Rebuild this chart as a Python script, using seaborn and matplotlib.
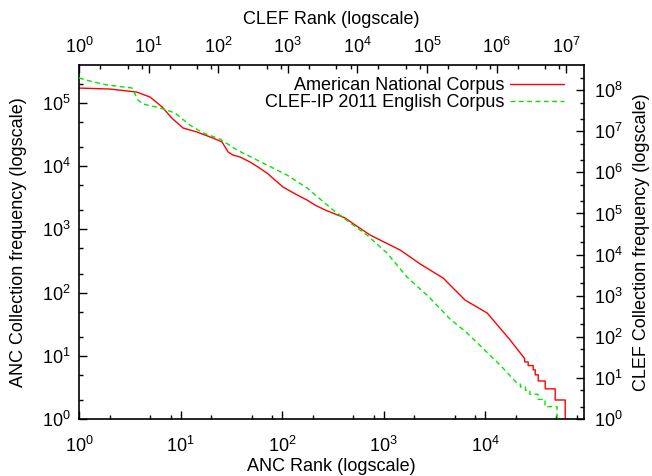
import matplotlib
matplotlib.use("Agg")
import matplotlib.pyplot as plt
from matplotlib.ticker import LogLocator, LogFormatterMathtext, NullFormatter
import seaborn as sns

# American National Corpus: rank vs collection frequency (bottom / left axes)
anc_rank = [1, 2.0, 3.7, 5.0, 6.6, 8.2, 10.6, 14.5, 20.9, 25.6, 29.4, 32.9, 38.5,
            48.4, 58, 71, 102, 141, 176, 211, 265, 418, 524, 736, 1454, 2290,
            3855, 6350, 10470, 17600, 24500,
            24500, 26500, 26500, 29700, 29700, 31100, 31100, 33300, 33300,
            39000, 39000, 48900, 48900, 61400, 61400]
anc_freq = [172600, 166700, 149300, 124500, 86500, 57900, 40200, 34800, 27900,
            24200, 16800, 15000, 14000, 11650, 9700, 7800, 4690, 3500, 2920,
            2430, 2030, 1515, 1175, 815, 472, 284, 170, 76, 47.5, 17.8, 9,
            8, 8, 7, 7, 6, 6, 5, 5, 4, 4, 3, 3, 2, 2, 1]

# CLEF-IP 2011 English corpus (top / right axes)
clef_rank = [1, 1.44, 2.5, 5.8, 7.0, 8.3, 14.6, 24, 39, 60.5, 106, 186, 440,
             975, 1890, 4460, 8650, 13700, 26600, 51600, 110000, 214000,
             376000, 1.12e6, 1.96e6, 2.2e6,
             2.2e6, 2.6e6, 2.6e6, 3.0e6, 3.0e6, 3.93e6, 3.93e6, 4.96e6,
             4.96e6, 7.38e6, 7.38e6]
clef_freq = [1.98e8, 1.67e8, 1.34e8, 1.13e8, 5.8e7, 4.6e7, 3.7e7, 2.79e7,
             1.42e7, 9.1e6, 6.5e6, 3.5e6, 1.69e6, 8.6e5, 4.17e5, 1.22e5,
             5.25e4, 3.0e4, 1.09e4, 2850, 880, 271, 124, 20.6, 7.5, 7,
             6, 6, 5, 5, 4, 4, 3, 3, 2, 2, 1]

sns.set_style("ticks")
plt.rcParams["font.family"] = ["Liberation Sans", "DejaVu Sans"]
plt.rcParams["mathtext.fontset"] = "custom"
plt.rcParams["mathtext.rm"] = "Liberation Sans"
plt.rcParams["mathtext.default"] = "regular"
for key in ["text.color", "axes.labelcolor", "xtick.color", "ytick.color",
            "axes.edgecolor"]:
    plt.rcParams[key] = "black"
fs = 13

fig = plt.figure(figsize=(6.52, 4.76), dpi=100)
rect = [79 / 652, 57 / 476, 505 / 652, 354 / 476]
ax = fig.add_axes(rect)
ax2 = fig.add_axes(rect, frameon=False)

sns.lineplot(x=anc_rank, y=anc_freq, ax=ax, color="#ff0000", lw=1.0,
             sort=False, estimator=None)
sns.lineplot(x=clef_rank, y=clef_freq, ax=ax2, color="#00e600", lw=1.0,
             sort=False, estimator=None, linestyle=(0, (3.5, 2.5)))

for a in (ax, ax2):
    a.set_xscale("log")
    a.set_yscale("log")
    for axis in (a.xaxis, a.yaxis):
        axis.set_major_locator(LogLocator(base=10, numticks=20))
        axis.set_major_formatter(LogFormatterMathtext())
        axis.set_minor_formatter(NullFormatter())
    a.xaxis.set_minor_locator(LogLocator(base=10, subs=[2, 5, 8], numticks=20))
    a.yaxis.set_minor_locator(LogLocator(base=10, subs=[2, 5], numticks=20))

ax.set_xlim(1, 9.4e4)
ax.set_ylim(1, 4.0e5)
ax2.set_xlim(1, 1.8e7)
ax2.set_ylim(1, 4.1e8)

ax.tick_params(which="both", direction="in", top=False, right=False,
               labelsize=fs, pad=6)
ax.tick_params(axis="x", which="both", pad=12)
ax.tick_params(which="major", length=6, width=1)
ax.tick_params(which="minor", length=3, width=1)
ax2.tick_params(which="both", direction="in", top=True, right=True,
                bottom=False, left=False, labeltop=True, labelright=True,
                labelbottom=False, labelleft=False, labelsize=fs, pad=6)
ax2.tick_params(axis="y", which="both", pad=7.5)
ax2.tick_params(which="major", length=6, width=1)
ax2.tick_params(which="minor", length=3, width=1)

for s in ax.spines.values():
    s.set_linewidth(1.2)

ax.set_xlabel("ANC Rank (logscale)", fontsize=fs, labelpad=1.5)
ax.set_ylabel("ANC Collection frequency (logscale)", fontsize=fs, labelpad=11)
ax2.xaxis.set_label_position("top")
ax2.yaxis.set_label_position("right")
ax2.set_xlabel("CLEF Rank (logscale)", fontsize=fs, labelpad=9)
ax2.set_ylabel("CLEF Collection frequency (logscale)", fontsize=fs, labelpad=7)

handles = [ax.lines[0], ax2.lines[0]]
labels = ["American National Corpus", "CLEF-IP 2011 English Corpus"]
ax2.legend(handles, labels, loc="upper right", frameon=False, markerfirst=False,
           handlelength=3, fontsize=fs, labelspacing=0.0, borderpad=0,
           handletextpad=0.3, bbox_to_anchor=(1 - 11 / 505, 1 - 3 / 354))

fig.savefig("out.png", dpi=100)
